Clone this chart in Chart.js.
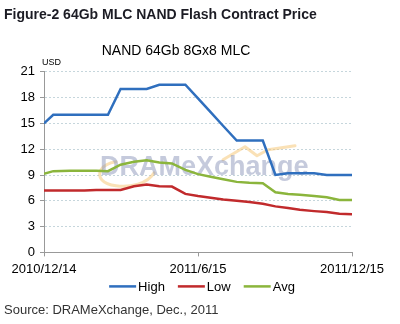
<!DOCTYPE html>
<html>
<head>
<meta charset="utf-8">
<script src="https://cdn.jsdelivr.net/npm/chart.js@4.4.1/dist/chart.umd.min.js"></script>
<style>
  html, body { margin: 0; padding: 0; background: #fff; }
  #wrap { position: relative; width: 400px; height: 324px; overflow: hidden; }
  #wrap canvas { position: absolute; left: 0; top: 0; }
  #fig { position: absolute; left: 4px; top: 6px; font: bold 14px "Liberation Sans", Arial, sans-serif; color: #1c1c24; white-space: nowrap; }
  #src { position: absolute; left: 4px; top: 302px; font: 13px "Liberation Sans", Arial, sans-serif; color: #333; white-space: nowrap; }
</style>
</head>
<body>
<div id="wrap">
  <canvas id="priceChart" width="400" height="324"></canvas>
  <div id="fig">Figure-2 64Gb MLC NAND Flash Contract Price</div>
  <div id="src">Source: DRAMeXchange, Dec., 2011</div>
</div>
<script>
// contract price dates (twice a month)
const dates = ['2010/12/14', '2010/12/25', '2011/1/14', '2011/1/31', '2011/2/14', '2011/2/28',
  '2011/3/15', '2011/3/31', '2011/4/15', '2011/4/30', '2011/5/15', '2011/5/31', '2011/6/15',
  '2011/6/30', '2011/7/15', '2011/7/31', '2011/8/15', '2011/8/31', '2011/9/15', '2011/9/30',
  '2011/10/14', '2011/10/31', '2011/11/15', '2011/11/30', '2011/12/15'];

const high = [15, 16, 16, 16, 16, 16, 19, 19, 19, 19.5, 19.5, 19.5, 17.9,
  16.3, 14.7, 13, 13, 13, 9, 9.2, 9.2, 9.2, 9, 9, 9];
const low = [7.2, 7.2, 7.2, 7.2, 7.25, 7.25, 7.25, 7.7, 7.9, 7.7, 7.65, 6.8, 6.55,
  6.35, 6.15, 6.0, 5.85, 5.65, 5.35, 5.15, 4.95, 4.8, 4.7, 4.5, 4.45];
const avg = [9.15, 9.45, 9.5, 9.5, 9.5, 9.45, 10.2, 10.55, 10.7, 10.45, 10.35, 9.6, 9.1,
  8.8, 8.5, 8.2, 8.1, 8.05, 7.0, 6.8, 6.7, 6.55, 6.4, 6.1, 6.1];

const tickDates = ['2010/12/14', '2011/6/15', '2011/12/15'];
const yTicks = [0, 3, 6, 9, 12, 15, 18, 21];

const FONT = '"Liberation Sans", Arial, sans-serif';

// days since the first date, used as x value
function dayOf(s) {
  var p = s.split('/').map(Number);
  return Date.UTC(p[0], p[1] - 1, p[2]) / 86400000;
}
const day0 = dayOf(dates[0]);
const xs = dates.map(d => dayOf(d) - day0);
const xTickVals = tickDates.map(d => dayOf(d) - day0);

function pts(vals) {
  return vals.map((v, i) => ({x: xs[i], y: v}));
}

// faded logo behind the lines, unit label and a compact line legend
const decor = {
  id: 'decor',
  beforeDatasetsDraw(chart) {
    const a = chart.chartArea, c = chart.ctx;
    const L = a.left, T = a.top;
    c.save();
    c.strokeStyle = 'rgba(246,196,110,0.5)';
    c.lineWidth = 3;
    c.lineCap = 'round';
    c.lineJoin = 'round';
    c.beginPath();
    c.moveTo(L + 110, T + 101);
    c.bezierCurveTo(L + 104, T + 112, L + 86, T + 116, L + 72, T + 114);
    c.bezierCurveTo(L + 58, T + 112, L + 53, T + 105, L + 57, T + 98);
    c.bezierCurveTo(L + 60, T + 93, L + 66, T + 91, L + 72, T + 90);
    c.stroke();
    c.beginPath();
    c.moveTo(L + 179, T + 88);
    c.lineTo(L + 201, T + 75);
    c.lineTo(L + 213, T + 84);
    c.lineTo(L + 224, T + 78);
    c.lineTo(L + 251, T + 74);
    c.stroke();
    c.font = 'bold 27px ' + FONT;
    c.fillStyle = 'rgba(140,150,186,0.5)';
    c.textBaseline = 'alphabetic';
    c.fillText('DRAMeXchange', L + 56, T + 103);
    c.restore();
  },
  afterDraw(chart) {
    const a = chart.chartArea, c = chart.ctx;
    c.save();
    c.font = '9px ' + FONT;
    c.fillStyle = '#000';
    c.fillText('USD', a.left - 2, a.top - 7);

    // legend row: line, label, next item
    const sets = chart.data.datasets;
    const lineLen = 27, gap = 2, itemGap = 13;
    c.font = '13px ' + FONT;
    const widths = sets.map(ds => lineLen + gap + c.measureText(ds.label).width);
    const total = widths.reduce((s, w) => s + w, 0) + itemGap * (sets.length - 1);
    let x = chart.width / 2 + 2 - total / 2;
    const y = a.bottom + 34;
    c.textBaseline = 'middle';
    c.lineCap = 'butt';
    sets.forEach((ds, i) => {
      c.strokeStyle = ds.borderColor;
      c.lineWidth = ds.borderWidth;
      c.beginPath();
      c.moveTo(x, y);
      c.lineTo(x + lineLen, y);
      c.stroke();
      c.fillStyle = '#000';
      c.fillText(ds.label, x + lineLen + gap, y + 1);
      x += widths[i] + itemGap;
    });
    c.restore();
  }
};

new Chart(document.getElementById('priceChart'), {
  type: 'line',
  data: {
    datasets: [
      {label: 'High', data: pts(high), borderColor: '#2f6fbe', backgroundColor: '#2f6fbe', borderWidth: 2.5},
      {label: 'Low', data: pts(low), borderColor: '#c12a2c', backgroundColor: '#c12a2c', borderWidth: 2.5},
      {label: 'Avg', data: pts(avg), borderColor: '#8bb53c', backgroundColor: '#8bb53c', borderWidth: 2.5}
    ]
  },
  options: {
    responsive: false,
    animation: false,
    devicePixelRatio: 1,
    layout: {padding: {left: 0, right: 48, top: 0, bottom: 42}},
    elements: {point: {radius: 0}, line: {tension: 0}},
    scales: {
      x: {
        type: 'linear',
        min: xTickVals[0],
        max: xTickVals[xTickVals.length - 1],
        afterBuildTicks: (s) => { s.ticks = xTickVals.map(v => ({value: v})); },
        ticks: {
          callback: (v) => tickDates[xTickVals.indexOf(v)],
          font: {size: 13, family: FONT},
          color: '#000',
          padding: 5,
          maxRotation: 0
        },
        grid: {drawOnChartArea: false, tickLength: 4, color: '#999'},
        border: {color: '#999'}
      },
      y: {
        min: 0,
        max: 21,
        afterBuildTicks: (s) => { s.ticks = yTicks.map(v => ({value: v})); },
        afterFit: (s) => { s.width = 44; },
        ticks: {
          font: {size: 13, family: FONT},
          color: '#000',
          padding: 5
        },
        grid: {color: '#c6d6dc', tickLength: 4, tickColor: '#999'},
        border: {color: '#999', dash: [2, 2]}
      }
    },
    plugins: {
      title: {
        display: true,
        text: 'NAND 64Gb 8Gx8 MLC',
        color: '#000',
        font: {size: 14, weight: 'normal', family: FONT},
        padding: {top: 43, bottom: 12}
      },
      legend: {display: false},
      tooltip: {enabled: false}
    }
  },
  plugins: [decor]
});
</script>
</body>
</html>
